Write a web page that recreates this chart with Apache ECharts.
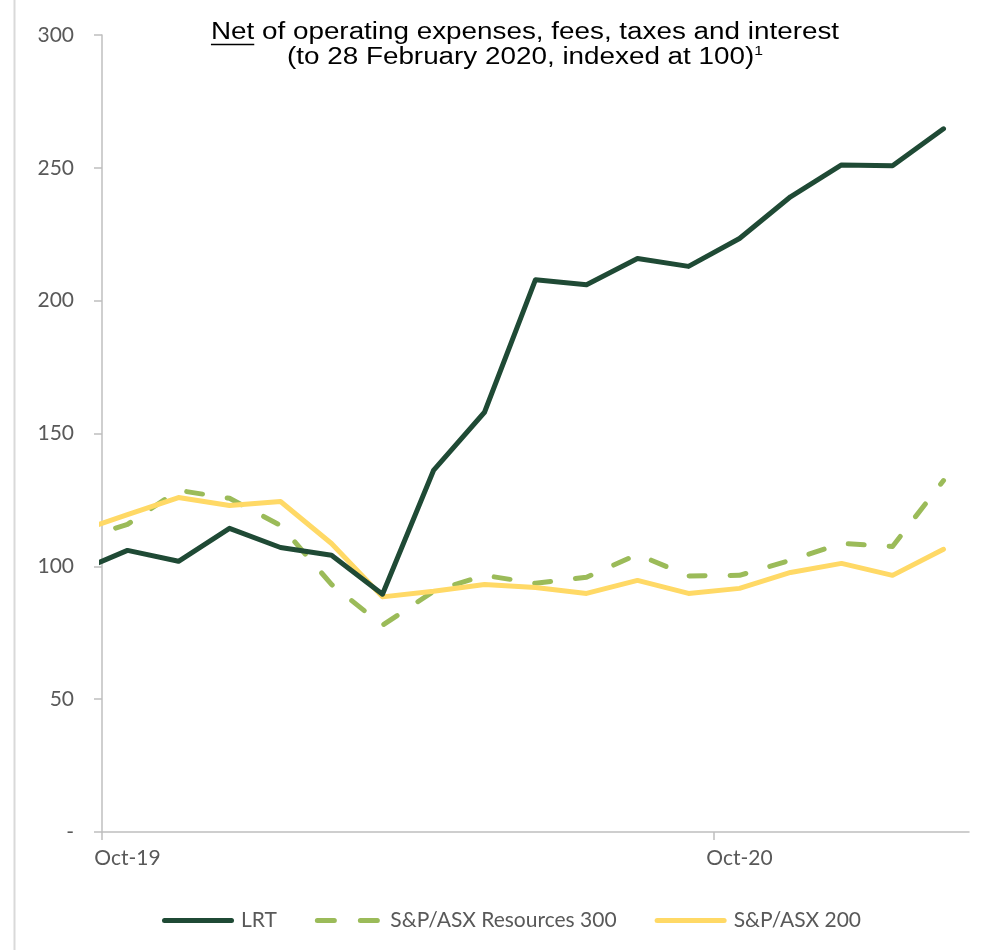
<!DOCTYPE html>
<html>
<head>
<meta charset="utf-8">
<script src="https://cdn.jsdelivr.net/npm/echarts@6/dist/echarts.min.js"></script>
<style>
  html, body { margin: 0; padding: 0; background: #ffffff; }
  #chart { width: 996px; height: 950px; }
</style>
</head>
<body>
<div id="chart"></div>
<script>
// Month-end index levels; the first month sits just left of the axis start
const months = ['Sep-19', 'Oct-19', 'Nov-19', 'Dec-19', 'Jan-20', 'Feb-20', 'Mar-20', 'Apr-20', 'May-20',
  'Jun-20', 'Jul-20', 'Aug-20', 'Sep-20', 'Oct-20', 'Nov-20', 'Dec-20', 'Jan-21', 'Feb-21'];
const lrt = [97.8, 106.0, 101.9, 114.3, 107.1, 104.2, 89.5, 136.1, 158.0, 207.9, 206.0, 215.9, 212.9,
  223.4, 239.1, 251.1, 250.8, 264.7];
const resources300 = [109.8, 115.8, 128.6, 125.6, 115.4, 93.2, 77.8, 90.6, 96.6, 93.6, 95.9, 104.5, 96.4,
  96.6, 102.3, 108.6, 107.5, 132.3];
const asx200 = [112.8, 119.5, 125.9, 122.9, 124.4, 108.6, 88.5, 90.6, 93.2, 92.0, 89.8, 94.7, 89.8,
  91.7, 97.7, 101.1, 96.6, 106.4];
const yTicks = [0, 50, 100, 150, 200, 250, 300];
const xTickLabels = ['Oct-19', 'Oct-20'];
const seriesNames = ['LRT', 'S&P/ASX Resources 300', 'S&P/ASX 200'];
const titleLine1 = 'Net of operating expenses, fees, taxes and interest';
const titleLine2 = '(to 28 February 2020, indexed at 100)';

const axisGrey = '#bfbfbf';
const labelGrey = '#595959';
const labelFont = 'Lato';
const labelSize = 21;
const titleFont = '"Liberation Sans", Arial, sans-serif';
const titleSize = 23;
const titleStretch = 1.21;
const colors = ['#1f4a35', '#9bbb59', '#ffd966'];

// months shown on the axis start at Oct-19 (position 0); each value sits mid-month
const bandMonths = months.slice(1);
const toPoints = vals => vals.map((v, i) => [i - 0.5, v]);
const tickPos = xTickLabels.map(m => bandMonths.indexOf(m));
const labelPos = tickPos.map(p => p + 0.5);

// text widths for the underline under "Net"
const ctx = document.createElement('canvas').getContext('2d');
ctx.font = titleSize + 'px ' + titleFont;
const fullW = ctx.measureText(titleLine1).width * titleStretch;
const netW = ctx.measureText('Net').width * titleStretch;
const titleCx = 525;

// legend keys: a rounded bar, and two rounded dashes for the dashed series
const solidKey = 'path://M2.5,0H69.5A2.5,2.5,0,0,1,69.5,5H2.5A2.5,2.5,0,0,1,2.5,0Z';
const dashKey = 'path://M2.5,0H19.5A2.5,2.5,0,0,1,19.5,5H2.5A2.5,2.5,0,0,1,2.5,0Z' +
  'M45.5,0H62.5A2.5,2.5,0,0,1,62.5,5H45.5A2.5,2.5,0,0,1,45.5,0Z';

const chart = echarts.init(document.getElementById('chart'), null, { renderer: 'canvas' });

const lineBase = { width: 5, cap: 'round', join: 'round' };

chart.setOption({
  animation: false,
  backgroundColor: '#ffffff',
  grid: { left: 102, right: 27, top: 35, bottom: 118 },
  graphic: [
    { type: 'line', shape: { x1: 14.5, y1: 0, x2: 14.5, y2: 950 }, style: { stroke: '#d9d9d9', lineWidth: 2 }, silent: true },
    {
      type: 'text', x: titleCx, y: 33, scaleX: titleStretch,
      style: { text: titleLine1, font: titleSize + 'px ' + titleFont, fill: '#000000', align: 'center', verticalAlign: 'middle' }
    },
    {
      type: 'line',
      shape: { x1: titleCx - fullW / 2, y1: 44.5, x2: titleCx - fullW / 2 + netW, y2: 44.5 },
      style: { stroke: '#000000', lineWidth: 1.5 }
    },
    {
      type: 'text', x: titleCx, y: 58, scaleX: titleStretch,
      style: {
        text: '{a|' + titleLine2 + '}{s|1}',
        align: 'center', verticalAlign: 'middle',
        rich: {
          a: { font: titleSize + 'px ' + titleFont, fill: '#000000', lineHeight: 26 },
          s: { font: '13px ' + titleFont, fill: '#000000', verticalAlign: 'top', lineHeight: 26, padding: [0, 0, 10, 0] }
        }
      }
    }
  ],
  legend: {
    top: 905, left: 157,
    itemWidth: 72, itemHeight: 5, itemGap: 38, symbolKeepAspect: true,
    data: [
      { name: seriesNames[0], icon: solidKey },
      { name: seriesNames[1], icon: dashKey },
      { name: seriesNames[2], icon: solidKey }
    ],
    textStyle: { fontFamily: labelFont, fontSize: labelSize, color: labelGrey, padding: [0, 0, 0, 2] }
  },
  xAxis: {
    type: 'value', min: 0, max: bandMonths.length,
    axisLine: { show: true, lineStyle: { color: axisGrey, width: 1.5 } },
    axisTick: { show: true, customValues: tickPos, length: 8, lineStyle: { color: axisGrey, width: 1.5 } },
    axisLabel: {
      customValues: labelPos, margin: 16, fontFamily: labelFont, fontSize: labelSize, color: labelGrey,
      formatter: v => bandMonths[Math.floor(v)]
    },
    splitLine: { show: false }
  },
  yAxis: {
    type: 'value', min: yTicks[0], max: yTicks[yTicks.length - 1], interval: yTicks[1] - yTicks[0],
    axisLine: { show: true, lineStyle: { color: axisGrey, width: 1.5 } },
    axisTick: { show: true, length: 8, lineStyle: { color: axisGrey, width: 1.5 } },
    axisLabel: {
      margin: 28, fontFamily: labelFont, fontSize: labelSize, color: labelGrey,
      formatter: v => (v === 0 ? '-' : String(v))
    },
    splitLine: { show: false }
  },
  series: [
    {
      name: seriesNames[0], type: 'line', data: toPoints(lrt), symbol: 'none', clip: true,
      color: colors[0], lineStyle: Object.assign({ color: colors[0] }, lineBase), z: 4
    },
    {
      name: seriesNames[1], type: 'line', data: toPoints(resources300), symbol: 'none', clip: true,
      color: colors[1], lineStyle: Object.assign({ color: colors[1], type: [16, 25] }, lineBase), z: 2
    },
    {
      name: seriesNames[2], type: 'line', data: toPoints(asx200), symbol: 'none', clip: true,
      color: colors[2], lineStyle: Object.assign({ color: colors[2] }, lineBase), z: 3
    }
  ]
});
</script>
</body>
</html>
